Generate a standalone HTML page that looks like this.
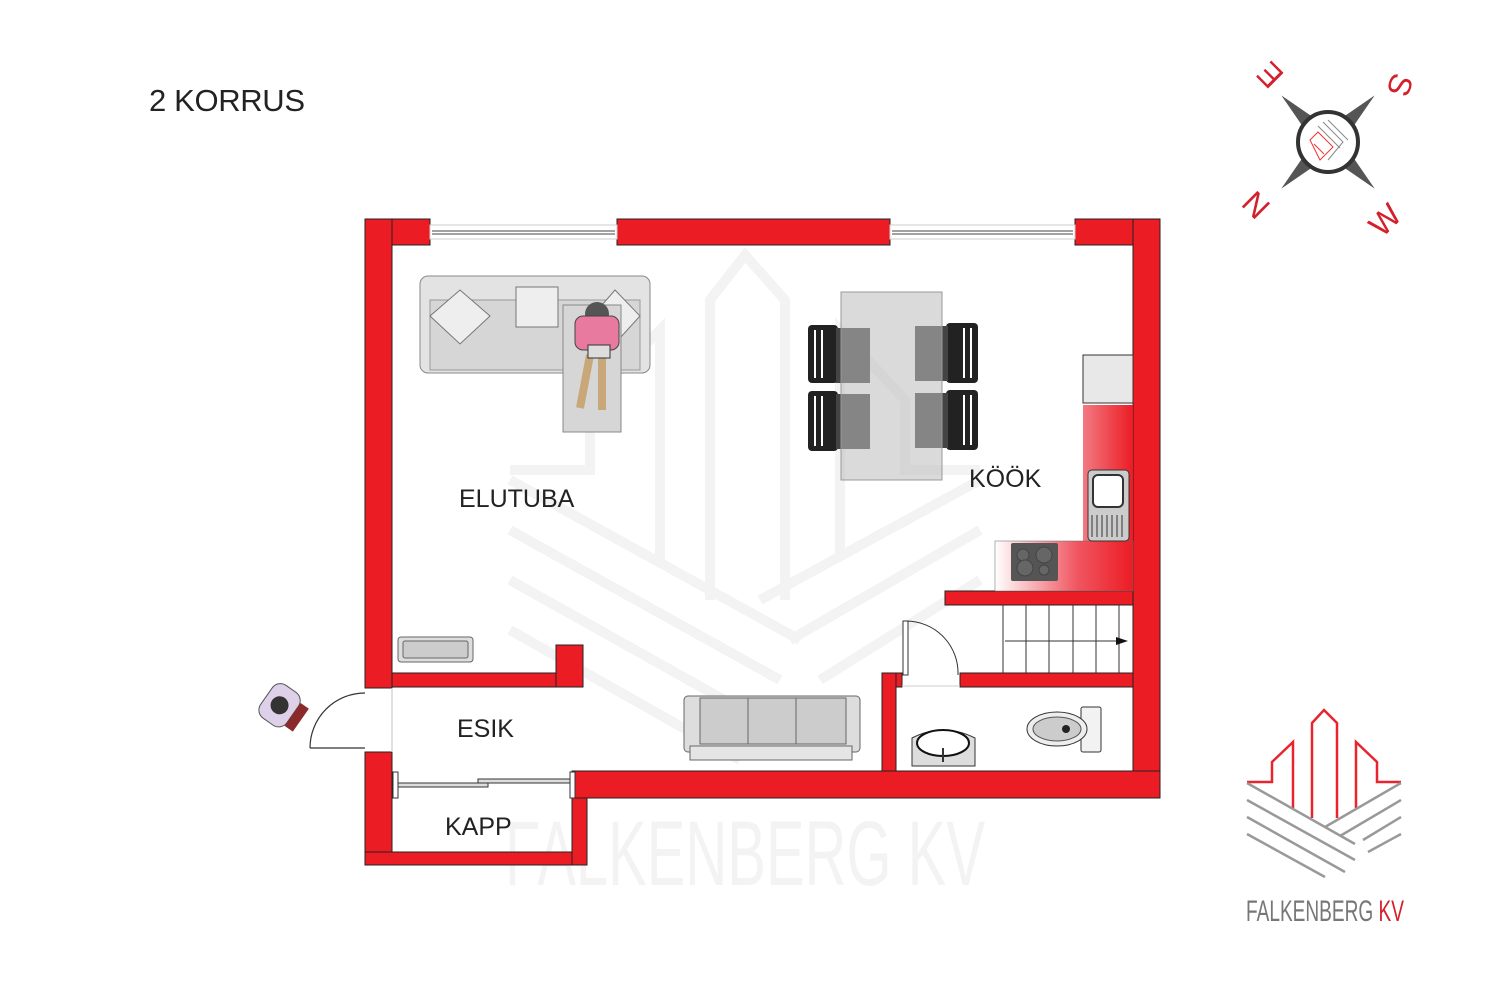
<!DOCTYPE html>
<html><head><meta charset="utf-8"><style>
html,body{margin:0;padding:0;background:#fff;}
svg{display:block;}
text{font-family:"Liberation Sans",sans-serif;}
</style></head><body>
<svg width="1500" height="1000" viewBox="0 0 1500 1000" xmlns="http://www.w3.org/2000/svg">
<defs>
<linearGradient id="cg" x1="0" x2="1" y1="0" y2="0"><stop offset="0" stop-color="#f27a82"/><stop offset="1" stop-color="#ec1c24"/></linearGradient>
<linearGradient id="cg2" x1="0" x2="1" y1="0" y2="0"><stop offset="0" stop-color="#fff"/><stop offset="0.6" stop-color="#f05560"/><stop offset="1" stop-color="#ec1c24"/></linearGradient>
</defs>
<rect width="1500" height="1000" fill="#fff"/>
<text x="149" y="111" font-size="31" fill="#222" textLength="156">2 KORRUS</text>

<!-- watermark -->
<g stroke="#f3f3f3" stroke-width="10" fill="none">
<path d="M510 470 L590 470 L590 400 L660 330 L660 560"/>
<path d="M710 600 L710 300 L745 255 L785 300 L785 600"/>
<path d="M840 560 L840 330 L905 400 L905 470 L980 470"/>
<path d="M510 480 L800 640 M510 530 L780 680 M510 580 L760 720 M510 630 L740 760"/>
<path d="M980 480 L760 600 M980 530 L790 640 M980 580 L820 680"/>
</g>
<text x="505" y="885" font-size="92" fill="#f3f3f3" textLength="480" lengthAdjust="spacingAndGlyphs">FALKENBERG KV</text>

<!-- walls -->
<g fill="#ec1c24" stroke="#222" stroke-width="1">
<rect x="365" y="219" width="65" height="26"/>
<rect x="617" y="219" width="273" height="26"/>
<rect x="1075" y="219" width="85" height="26"/>
<rect x="1133" y="219" width="27" height="579"/>
<rect x="365" y="219" width="27" height="469"/>
<rect x="392" y="673" width="191" height="14"/>
<rect x="556" y="645" width="27" height="42"/>
<rect x="365" y="752" width="27" height="113"/>
<rect x="365" y="852" width="222" height="13"/>
<rect x="572" y="771" width="15" height="94"/>
<rect x="572" y="771" width="588" height="27"/>
<rect x="882" y="673" width="14" height="98"/>
<rect x="896" y="673" width="6" height="14"/>
<rect x="960" y="673" width="173" height="14"/>
<rect x="945" y="591" width="188" height="14"/>
</g>
<!-- windows -->
<g stroke="#444" fill="#fff" stroke-width="1">
<rect x="430" y="225" width="187" height="14" stroke="#ccc"/>
<line x1="432" y1="231" x2="615" y2="231"/><line x1="432" y1="234" x2="615" y2="234"/>
<rect x="890" y="225" width="185" height="14" stroke="#ccc"/>
<line x1="892" y1="231" x2="1073" y2="231"/><line x1="892" y1="234" x2="1073" y2="234"/>
</g>
<!-- entrance door -->
<g stroke="#333" fill="none" stroke-width="1.2">
<line x1="310" y1="748" x2="365" y2="748"/>
<path d="M310 748 A55 55 0 0 1 365 693"/>
<line x1="392" y1="688" x2="392" y2="752" stroke="#ccc"/>
</g>
<!-- kapp sliding doors -->
<g stroke="#333" fill="#fff">
<rect x="393" y="772" width="5" height="26"/>
<rect x="570" y="772" width="5" height="26"/>
<rect x="398" y="783" width="90" height="4" fill="#ddd"/>
<rect x="478" y="779" width="92" height="4" fill="#ddd"/>
</g>
<!-- kitchen -->
<rect x="1083" y="355" width="50" height="48" fill="#e8e8e8" stroke="#333"/>
<rect x="1083" y="405" width="50" height="186" fill="url(#cg)"/>
<rect x="995" y="541" width="138" height="50" fill="url(#cg2)" stroke="#666" stroke-width="0.5"/>
<rect x="1088" y="470" width="41" height="71" rx="4" fill="#ccc" stroke="#333"/>
<rect x="1093" y="475" width="30" height="32" rx="5" fill="#fff" stroke="#333" stroke-width="2"/>
<g stroke="#333"><line x1="1092" y1="515" x2="1092" y2="537"/><line x1="1097" y1="515" x2="1097" y2="537"/><line x1="1102" y1="515" x2="1102" y2="537"/><line x1="1107" y1="515" x2="1107" y2="537"/><line x1="1112" y1="515" x2="1112" y2="537"/><line x1="1117" y1="515" x2="1117" y2="537"/><line x1="1122" y1="515" x2="1122" y2="537"/></g>
<rect x="1011" y="543" width="47" height="38" rx="2" fill="#555"/>
<circle cx="1023" cy="555" r="6" fill="#666" stroke="#444"/><circle cx="1044" cy="555" r="8" fill="#666" stroke="#444"/><circle cx="1025" cy="568" r="8" fill="#666" stroke="#444"/><circle cx="1044" cy="570" r="5" fill="#666" stroke="#444"/>
<!-- stairs -->
<g stroke="#333" stroke-width="1">
<line x1="1003" y1="605" x2="1003" y2="673"/><line x1="1026" y1="605" x2="1026" y2="673"/><line x1="1049" y1="605" x2="1049" y2="673"/><line x1="1073" y1="605" x2="1073" y2="673"/><line x1="1096" y1="605" x2="1096" y2="673"/><line x1="1119" y1="605" x2="1119" y2="673"/>
<line x1="1005" y1="641" x2="1118" y2="641"/>
</g>
<polygon points="1128,641 1116,637 1116,645" fill="#111"/>
<!-- wc door -->
<g stroke="#333" fill="none">
<rect x="903" y="621" width="5" height="54" fill="#fff"/>
<path d="M906 621 A52 52 0 0 1 958 675"/>
<line x1="902" y1="686" x2="960" y2="686" stroke="#ccc"/>
</g>
<!-- wc -->
<path d="M912 738 Q943 722 975 738 L975 766 L912 766 Z" fill="#ddd" stroke="#333"/>
<ellipse cx="943" cy="743" rx="26" ry="13" fill="#fff" stroke="#111" stroke-width="2"/>
<line x1="943" y1="748" x2="943" y2="762" stroke="#333" stroke-width="2"/>
<rect x="1081" y="707" width="20" height="45" rx="2" fill="#f2f2f2" stroke="#333"/>
<ellipse cx="1057" cy="729" rx="30" ry="17" fill="#eee" stroke="#333"/>
<ellipse cx="1057" cy="729" rx="24" ry="12" fill="#ccc" stroke="#555"/>
<circle cx="1066" cy="729" r="4" fill="#222"/>
<!-- living furniture -->
<rect x="420" y="276" width="230" height="97" rx="8" fill="#e3e3e3" stroke="#888"/>
<rect x="430" y="300" width="210" height="70" fill="#d6d6d6" stroke="#999"/>
<polygon points="430,316 460,290 490,316 460,344" fill="#eee" stroke="#777"/>
<rect x="516" y="287" width="42" height="40" fill="#eee" stroke="#777"/>
<polygon points="595,313 615,290 640,316 620,338" fill="#eee" stroke="#777"/>
<rect x="563" y="305" width="58" height="127" fill="#d6d6d6" stroke="#888"/>
<circle cx="597" cy="314" r="12" fill="#555"/>
<rect x="575" y="316" width="44" height="34" rx="8" fill="#e87aa0" stroke="#444"/>
<path d="M590 355 L580 408 M602 355 L602 410" stroke="#c8a878" stroke-width="8"/>
<rect x="588" y="345" width="22" height="13" fill="#ddd" stroke="#333"/>
<!-- table & chairs -->
<g fill="#222"><rect x="808" y="325" width="30" height="58" rx="4"/><rect x="808" y="391" width="30" height="60" rx="4"/><rect x="946" y="323" width="32" height="60" rx="4"/><rect x="946" y="390" width="32" height="60" rx="4"/></g>
<g stroke="#fff" stroke-width="2"><line x1="815" y1="330" x2="815" y2="378"/><line x1="822" y1="330" x2="822" y2="378"/><line x1="815" y1="396" x2="815" y2="446"/><line x1="822" y1="396" x2="822" y2="446"/><line x1="964" y1="328" x2="964" y2="378"/><line x1="971" y1="328" x2="971" y2="378"/><line x1="964" y1="395" x2="964" y2="445"/><line x1="971" y1="395" x2="971" y2="445"/></g>
<rect x="836" y="328" width="34" height="55" fill="#444"/><rect x="836" y="394" width="34" height="55" fill="#444"/>
<rect x="915" y="326" width="33" height="55" fill="#444"/><rect x="915" y="393" width="33" height="55" fill="#444"/>
<rect x="841" y="292" width="101" height="188" fill="#bbb" fill-opacity="0.55" stroke="#999"/>
<!-- radiator -->
<rect x="398" y="637" width="75" height="25" rx="3" fill="#ddd" stroke="#666"/><rect x="403" y="641" width="65" height="17" rx="2" fill="#ccc" stroke="#666"/>
<!-- esik sofa -->
<rect x="684" y="696" width="176" height="56" rx="4" fill="#ddd" stroke="#666"/>
<rect x="700" y="698" width="146" height="46" fill="#ccc" stroke="#666"/>
<line x1="748" y1="698" x2="748" y2="744" stroke="#666"/><line x1="796" y1="698" x2="796" y2="744" stroke="#666"/>
<rect x="690" y="746" width="162" height="14" fill="#e5e5e5" stroke="#666"/>
<!-- person at door -->
<g transform="rotate(-55 282 707)">
<rect x="262" y="688" width="40" height="32" rx="10" fill="#ddd0e8" stroke="#555"/>
<circle cx="282" cy="704" r="9" fill="#333"/>
<rect x="268" y="720" width="28" height="10" fill="#8b2a2a"/>
</g>
<!-- labels -->
<g font-size="25" fill="#222">
<text x="459" y="507">ELUTUBA</text>
<text x="969" y="487">KÖÖK</text>
<text x="457" y="737">ESIK</text>
<text x="445" y="835">KAPP</text>
</g>
<!-- compass -->
<g transform="translate(1328 142)">
<g transform="rotate(45)">
<polygon points="0,-66 10,-12 0,0 -10,-12" fill="#555"/>
<polygon points="0,66 10,12 0,0 -10,12" fill="#555"/>
<polygon points="-66,0 -12,10 0,0 -12,-10" fill="#555"/>
<polygon points="66,0 12,10 0,0 12,-10" fill="#555"/>
</g>
<circle r="30" fill="#fff" stroke="#333" stroke-width="4"/>
<g stroke="#e33" stroke-width="1" fill="none"><path d="M-18 -2 L-10 -10 L5 5 L-8 18 Z M-14 2 L-4 12"/></g>
<g stroke="#888" fill="none"><path d="M-5 -20 L15 0 L0 18 M-10 -16 L12 6 M0 -22 L20 -2"/></g>
</g>
<g fill="#d4202a" font-family="Liberation Serif" font-size="32">
<text x="0" y="11" transform="translate(1270 75) rotate(-135)" text-anchor="middle">E</text>
<text x="0" y="11" transform="translate(1400 85) rotate(110)" text-anchor="middle">S</text>
<text x="0" y="11" transform="translate(1256 205) rotate(45)" text-anchor="middle">N</text>
<text x="0" y="11" transform="translate(1385 220) rotate(-45)" text-anchor="middle">W</text>
</g>
<!-- logo -->
<g fill="none" stroke="#e8242c" stroke-width="2.5">
<polyline points="1247,782 1272,782 1272,762 1293,742 1293,808"/>
<polyline points="1312,818 1312,723 1324,710 1337,723 1337,818"/>
<polyline points="1356,808 1356,742 1377,762 1377,782 1401,782"/>
</g>
<g fill="none" stroke="#999" stroke-width="2.5">
<line x1="1247" y1="783" x2="1355" y2="844"/>
<line x1="1247" y1="800" x2="1355" y2="860"/>
<line x1="1247" y1="817" x2="1345" y2="872"/>
<line x1="1247" y1="834" x2="1325" y2="877"/>
<line x1="1401" y1="783" x2="1325" y2="827"/>
<line x1="1401" y1="800" x2="1340" y2="836"/>
<line x1="1401" y1="817" x2="1363" y2="840"/>
<line x1="1401" y1="834" x2="1368" y2="852"/>
</g>
<text x="1246" y="921" font-size="30" fill="#777" textLength="158" lengthAdjust="spacingAndGlyphs">FALKENBERG <tspan fill="#d4202a">KV</tspan></text>
</svg>
</body></html>
